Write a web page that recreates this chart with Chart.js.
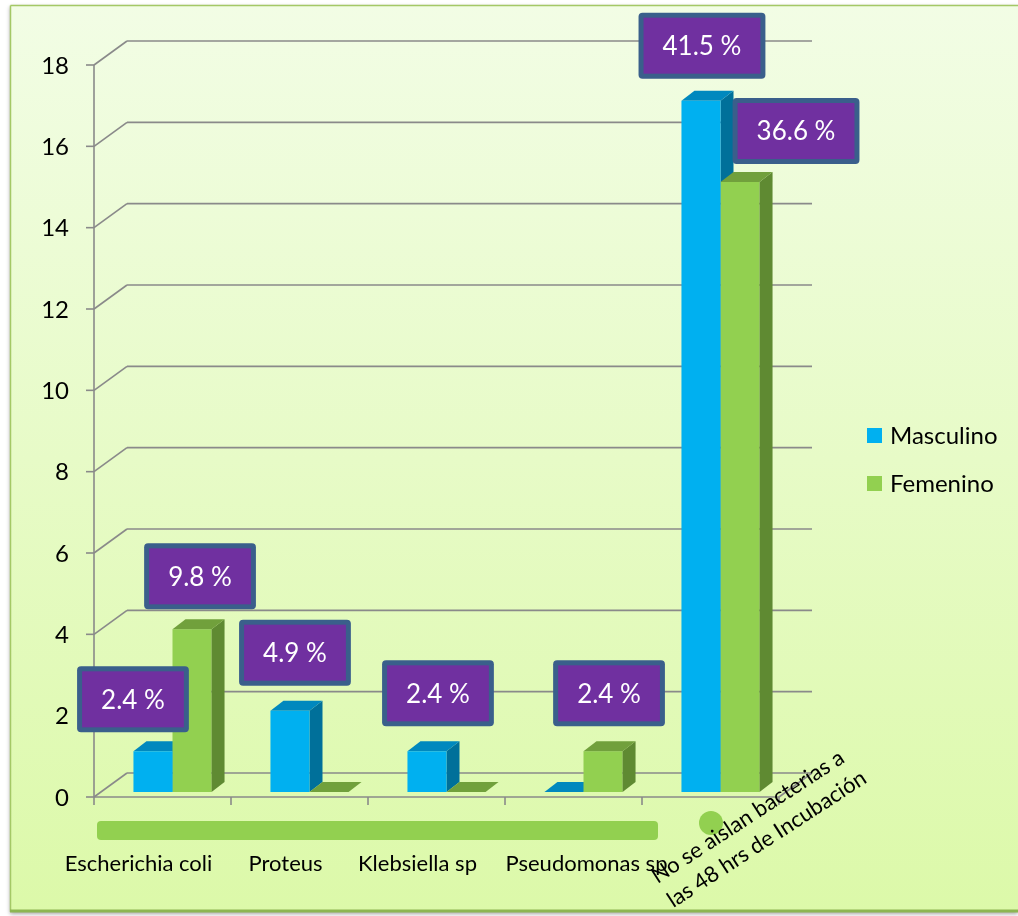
<!DOCTYPE html>
<html lang="es">
<head>
<meta charset="utf-8">
<title>Bacterias aisladas por sexo</title>
<script src="https://cdn.jsdelivr.net/npm/chart.js@4.4.1/dist/chart.umd.min.js"></script>
<style>
  html, body { margin: 0; padding: 0; background: #ffffff; }
  #chart { display: block; }
</style>
</head>
<body>
<canvas id="chart" width="1018" height="916"></canvas>
<script>
// Conteos por sexo para cada resultado del cultivo
const categorias = [
  'Escherichia coli', 'Proteus', 'Klebsiella sp', 'Pseudomonas sp',
  ['No se aislan bacterias a', 'las 48 hrs de Incubación']
];
const masculino = [1, 2, 1, 0, 17];
const femenino = [4, 0, 0, 1, 15];
const yTicks = [0, 2, 4, 6, 8, 10, 12, 14, 16, 18];

// total de casos, base de los porcentajes
const total = [...masculino, ...femenino].reduce((a, b) => a + b, 0);

// desplazamiento de cada cuadro de porcentaje desde la cara superior de su barra
const offMasc = [[-20, -52], [5, -58], [11, -58], [0, 0], [1, -55]];
const offFem = [[8, -53], [0, 0], [0, 0], [6, -58], [56, -51]];
// ajuste horizontal de las etiquetas de categoría
const shiftCat = [-34, -24, -29, 3];

const FONT = 'Lato, "Open Sans", sans-serif';
const BAR_DX = 13, BAR_DY = -10;   // profundidad de las barras
const WALL_DX = 33;                // profundidad de la pared del fondo
const FRONT_DY = 5, BACK_DY = -19;
const GRID = '#8a8a8a';

const COLORS = [
  { front: '#00B0F0', top: '#0088BE', side: '#00709A' },
  { front: '#92D050', top: '#71A03C', side: '#5F8A32' }
];

function face(ctx, pts, color) {
  ctx.beginPath();
  ctx.moveTo(pts[0][0], pts[0][1]);
  for (let i = 1; i < pts.length; i++) ctx.lineTo(pts[i][0], pts[i][1]);
  ctx.closePath();
  ctx.fillStyle = color;
  ctx.fill();
}

function barFaces(ctx, meta, c) {
  meta.data.forEach(el => {
    const { x, y, base, width } = el.getProps(['x', 'y', 'base', 'width'], true);
    const l = x - width / 2, r = x + width / 2;
    if (base - y > 0.5) {
      face(ctx, [[r, y], [r + BAR_DX, y + BAR_DY], [r + BAR_DX, base + BAR_DY], [r, base]], c.side);
    }
    face(ctx, [[l, y], [r, y], [r + BAR_DX, y + BAR_DY], [l + BAR_DX, y + BAR_DY]], c.top);
  });
}

function line(ctx, x1, y1, x2, y2) {
  ctx.beginPath();
  ctx.moveTo(x1, y1);
  ctx.lineTo(x2, y2);
  ctx.stroke();
}

const fondo = {
  id: 'fondo',
  beforeDraw(chart) {
    const { ctx, width, height } = chart;
    ctx.save();
    ctx.fillStyle = '#ffffff';
    ctx.fillRect(0, 0, width, height);
    const g = ctx.createLinearGradient(0, 5, 0, 912);
    g.addColorStop(0, '#F2FDE5');
    g.addColorStop(1, '#DCF9A9');
    ctx.shadowColor = 'rgba(0,0,0,0.35)';
    ctx.shadowBlur = 4;
    ctx.shadowOffsetX = 0;
    ctx.shadowOffsetY = 2;
    ctx.fillStyle = g;
    ctx.fillRect(10, 5, width - 10, 907);
    ctx.shadowColor = 'transparent';
    ctx.strokeStyle = '#A4C866';
    ctx.lineWidth = 1.5;
    line(ctx, 10.5, 912, 10.5, 5.5);
    line(ctx, 10.5, 5.5, width, 5.5);
    ctx.strokeStyle = '#8DB652';
    ctx.lineWidth = 3;
    line(ctx, 10, 911, width, 911);
    ctx.restore();
  }
};

const paredes = {
  id: 'paredes',
  beforeDatasetsDraw(chart) {
    const { ctx, chartArea: a, scales: { y } } = chart;
    const step = (a.right - a.left) / categorias.length;
    const fx0 = a.left - 10;
    const fx1 = fx0 + step * categorias.length;
    ctx.save();
    ctx.strokeStyle = GRID;
    ctx.lineWidth = 1.6;
    ctx.lineCap = 'butt';
    yTicks.forEach(v => {
      const fy = y.getPixelForValue(v) + FRONT_DY;
      const by = y.getPixelForValue(v) + BACK_DY;
      line(ctx, fx0 - 8, fy, fx0, fy);
      line(ctx, fx0, fy, fx0 + WALL_DX, by);
      line(ctx, fx0 + WALL_DX, by, fx1 + WALL_DX, by);
    });
    const f0 = y.getPixelForValue(0) + FRONT_DY;
    const b0 = y.getPixelForValue(0) + BACK_DY;
    line(ctx, fx0, f0, fx0, y.getPixelForValue(18) + FRONT_DY);
    line(ctx, fx0, f0, fx1, f0);
    line(ctx, fx1, f0, fx1 + WALL_DX, b0);
    for (let k = 0; k <= categorias.length; k++) {
      const x = fx0 + k * step;
      line(ctx, x, f0, x, f0 + 8);
    }
    // caras de las barras masculinas, quedan detrás de las femeninas
    barFaces(ctx, chart.getDatasetMeta(0), COLORS[0]);
    ctx.restore();
  },
  afterDatasetsDraw(chart) {
    const { ctx } = chart;
    ctx.save();
    barFaces(ctx, chart.getDatasetMeta(1), COLORS[1]);
    ctx.restore();
  }
};

function roundRect(ctx, x, y, w, h, r) {
  ctx.beginPath();
  ctx.moveTo(x + r, y);
  ctx.arcTo(x + w, y, x + w, y + h, r);
  ctx.arcTo(x + w, y + h, x, y + h, r);
  ctx.arcTo(x, y + h, x, y, r);
  ctx.arcTo(x, y, x + w, y, r);
  ctx.closePath();
}

const etiquetas = {
  id: 'etiquetas',
  afterDatasetsDraw(chart) {
    const { ctx } = chart;
    ctx.save();
    ctx.font = '26px ' + FONT;
    ctx.textAlign = 'center';
    ctx.textBaseline = 'middle';
    [offMasc, offFem].forEach((offs, d) => {
      const meta = chart.getDatasetMeta(d);
      const values = chart.data.datasets[d].data;
      meta.data.forEach((el, i) => {
        if (!values[i]) return;
        const { x, y } = el.getProps(['x', 'y'], true);
        const txt = (values[i] / total * 100).toFixed(1) + ' %';
        const w = ctx.measureText(txt).width + 48, h = 66;
        const cx = x + offs[i][0], cy = y + offs[i][1];
        ctx.fillStyle = '#3A5F8B';
        roundRect(ctx, cx - w / 2, cy - h / 2, w, h, 4);
        ctx.fill();
        ctx.fillStyle = '#7030A0';
        ctx.fillRect(cx - w / 2 + 5, cy - h / 2 + 5, w - 10, h - 10);
        ctx.fillStyle = '#ffffff';
        ctx.fillText(txt, cx, cy + 1);
      });
    });
    ctx.restore();
  }
};

const ejes = {
  id: 'ejes',
  afterDraw(chart) {
    const { ctx, chartArea: a, scales: { x, y } } = chart;
    ctx.save();
    // escala vertical
    ctx.fillStyle = '#000000';
    ctx.font = '24px ' + FONT;
    ctx.textAlign = 'right';
    ctx.textBaseline = 'middle';
    yTicks.forEach(v => ctx.fillText(String(v), a.left - 35, y.getPixelForValue(v) + FRONT_DY + 1));

    // franja y círculo decorativos bajo el eje
    ctx.fillStyle = '#92D050';
    roundRect(ctx, a.left - 7, 821, 561, 19, 4);
    ctx.fill();
    ctx.beginPath();
    ctx.arc(711, 823, 12, 0, Math.PI * 2);
    ctx.fill();

    // categorías
    ctx.fillStyle = '#000000';
    ctx.font = '22px ' + FONT;
    ctx.textAlign = 'center';
    ctx.textBaseline = 'alphabetic';
    categorias.forEach((c, i) => {
      const px = x.getPixelForValue(i);
      if (Array.isArray(c)) {
        ctx.save();
        ctx.textAlign = 'left';
        ctx.translate(px - 63, 884);
        ctx.rotate(-33 * Math.PI / 180);
        c.forEach((t, j) => ctx.fillText(t, 0, j * 29));
        ctx.restore();
      } else {
        ctx.fillText(c, px + shiftCat[i], 871);
      }
    });

    // leyenda
    ctx.font = '24px ' + FONT;
    ctx.textAlign = 'left';
    chart.data.datasets.forEach((ds, i) => {
      const ly = 428 + i * 48;
      ctx.fillStyle = ds.backgroundColor;
      ctx.fillRect(867, ly, 15, 15);
      ctx.fillStyle = '#000000';
      ctx.fillText(ds.label, 890, ly + 16);
    });
    ctx.restore();
  }
};

new Chart(document.getElementById('chart'), {
  type: 'bar',
  data: {
    labels: categorias,
    datasets: [
      { label: 'Masculino', data: masculino, backgroundColor: COLORS[0].front },
      { label: 'Femenino', data: femenino, backgroundColor: COLORS[1].front }
    ]
  },
  options: {
    responsive: false,
    animation: false,
    layout: { padding: { left: 104, right: 229, top: 60, bottom: 124 } },
    datasets: { bar: { categoryPercentage: 0.57, barPercentage: 1, borderWidth: 0 } },
    scales: {
      x: { display: false },
      y: { display: false, min: 0, max: 18 }
    },
    plugins: {
      legend: { display: false },
      tooltip: { enabled: false }
    }
  },
  plugins: [fondo, paredes, etiquetas, ejes]
});
</script>
</body>
</html>
